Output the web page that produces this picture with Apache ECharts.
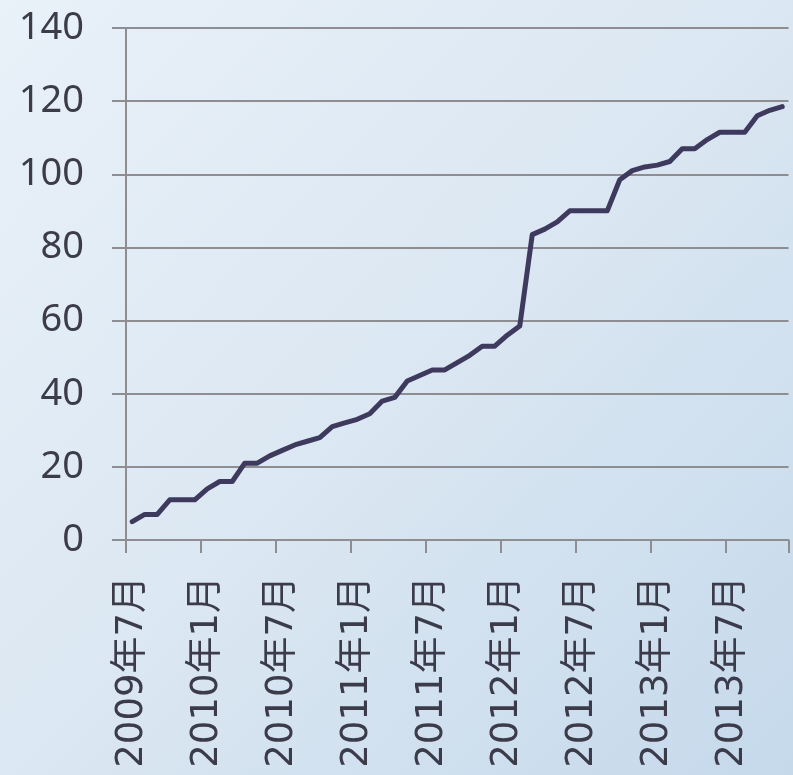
<!DOCTYPE html>
<html>
<head>
<meta charset="utf-8">
<script src="https://cdn.jsdelivr.net/npm/echarts@6/dist/echarts.min.js"></script>
<style>
html,body{margin:0;padding:0;}
#chart{width:793px;height:775px;}
</style>
</head>
<body>
<div id="chart"></div>
<script>
// Monthly categories 2009年7月 .. 2013年11月
const startYear = 2009, startMonth = 7, monthCount = 53;
const categories = [];
for (let i = 0; i < monthCount; i++) {
  const m = startMonth - 1 + i;
  categories.push((startYear + Math.floor(m / 12)) + '年' + (m % 12 + 1) + '月');
}
const values = [
  5, 7, 7, 11, 11, 11, 14, 16, 16, 21,
  21, 23, 24.5, 26, 27, 28, 31, 32, 33, 34.5,
  38, 39, 43.5, 45, 46.5, 46.5, 48.5, 50.5, 53, 53,
  56, 58.5, 83.5, 85, 87, 90, 90, 90, 90, 98.5,
  101, 102, 102.5, 103.5, 107, 107, 109.5, 111.5, 111.5, 111.5,
  116, 117.5, 118.5
];
const yMin = 0, yMax = 140, yStep = 20;

const chart = echarts.init(document.getElementById('chart'));
const gridColor = '#8e8e92';
const textColor = '#3b3b4a';
chart.setOption({
  backgroundColor: {
    type: 'linear', x: 0, y: 0, x2: 1, y2: 1,
    colorStops: [
      {offset: 0, color: '#e9f1f9'},
      {offset: 0.5, color: '#dbe7f2'},
      {offset: 1, color: '#c5d9eb'}
    ]
  },
  animation: false,
  grid: {left: 126, top: 28, right: 4.5, bottom: 235, containLabel: false},
  xAxis: {
    type: 'category',
    data: categories,
    boundaryGap: true,
    axisLine: {show: true, lineStyle: {color: gridColor, width: 2}},
    axisTick: {show: true, interval: function (i) { return i % 6 === 0; }, length: 13, lineStyle: {color: gridColor, width: 2}},
    axisLabel: {
      interval: 5, rotate: 90, margin: 36,
      fontSize: 37, color: textColor,
      fontFamily: '"DejaVu Sans", "Noto Sans CJK JP", sans-serif'
    },
    splitLine: {show: false}
  },
  yAxis: {
    type: 'value',
    min: yMin, max: yMax, interval: yStep,
    axisLine: {show: true, lineStyle: {color: gridColor, width: 2}},
    axisTick: {show: true, length: 14, lineStyle: {color: gridColor, width: 2}},
    axisLabel: {
      margin: 42, fontSize: 38, color: textColor,
      fontFamily: '"Noto Sans", sans-serif'
    },
    splitLine: {show: true, lineStyle: {color: gridColor, width: 2}}
  },
  series: [{
    type: 'line',
    data: values,
    symbol: 'none',
    lineStyle: {color: '#3d3a5e', width: 5, cap: 'round', join: 'round'}
  }]
});
</script>
</body>
</html>
